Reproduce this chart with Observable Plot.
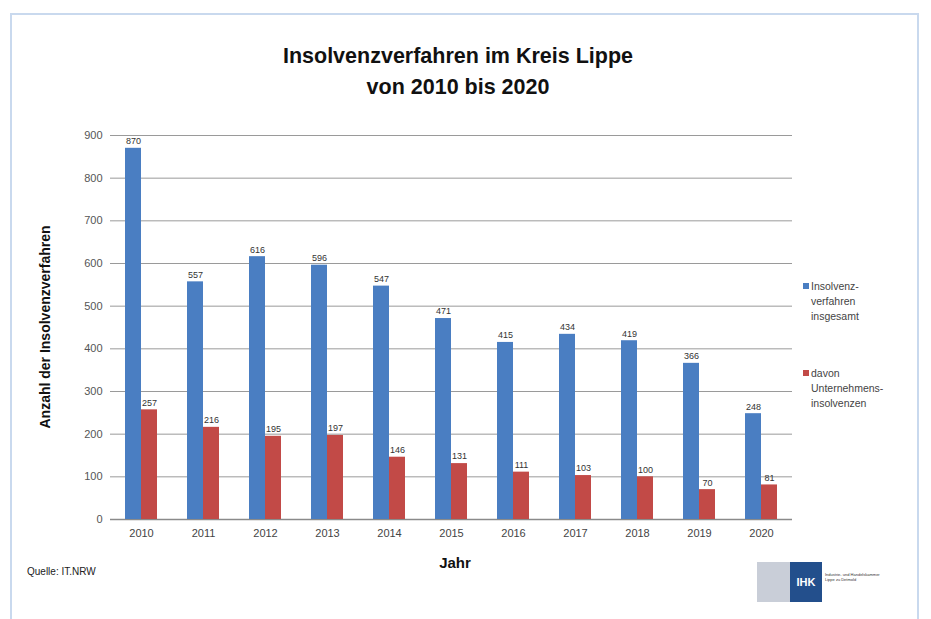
<!DOCTYPE html>
<html>
<head>
<meta charset="utf-8">
<script src="https://cdn.jsdelivr.net/npm/d3@7"></script>
<script src="https://cdn.jsdelivr.net/npm/@observablehq/plot@0.6"></script>
<style>
  html, body { margin: 0; padding: 0; background: #fff; }
  #page { position: relative; width: 931px; height: 619px; overflow: hidden; font-family: "Liberation Sans", Arial, sans-serif; }
  #frame { position: absolute; left: 10px; top: 13px; width: 905px; height: 700px; border: 2px solid #c9d9ee; }
  #chart { position: absolute; left: 0; top: 0; }
  #title { position: absolute; left: 0; width: 916px; top: 41px; text-align: center; font-weight: bold; font-size: 21.5px; line-height: 31px; color: #111; }
  .legend { position: absolute; left: 803px; font-size: 10.5px; line-height: 15px; color: #444; }
  .legend .sw { display: inline-block; width: 6px; height: 6px; margin-right: 2px; vertical-align: 1px; }
  .legend .txt { display: inline-block; vertical-align: top; }
  #ylab { position: absolute; left: 45px; top: 327px; transform: translate(-50%, -50%) rotate(-90deg); white-space: nowrap; font-weight: bold; font-size: 14px; color: #111; }
  #xlab { position: absolute; left: 455px; top: 562px; transform: translate(-50%, -50%); font-weight: bold; font-size: 15px; color: #111; }
  #quelle { position: absolute; left: 27px; top: 566px; font-size: 10px; color: #222; }
  #logo { position: absolute; left: 757px; top: 562px; height: 40px; display: flex; align-items: stretch; }
  #logo .emb { width: 33px; background: #c9ced8; }
  #logo .ihk { width: 32px; background: #234f8c; color: #fff; font-weight: bold; font-size: 11px; display: flex; align-items: center; justify-content: center; }
  #logo .name { font-size: 4px; line-height: 5px; color: #333; padding: 10px 0 0 3px; width: 60px; }
</style>
</head>
<body>
<div id="page">
  <div id="frame"></div>
  <div id="chart"></div>
  <div id="title">Insolvenzverfahren im Kreis Lippe<br>von 2010 bis 2020</div>
  <div id="ylab">Anzahl der Insolvenzverfahren</div>
  <div id="xlab">Jahr</div>
  <div id="quelle">Quelle: IT.NRW</div>
  <div class="legend" style="top:279px"><span class="sw" style="background:#4a7ec2"></span><span class="txt">Insolvenz-<br>verfahren<br>insgesamt</span></div>
  <div class="legend" style="top:366px"><span class="sw" style="background:#c24a47"></span><span class="txt">davon<br>Unternehmens-<br>insolvenzen</span></div>
  <div id="logo"><div class="emb"></div><div class="ihk">IHK</div><div class="name">Industrie- und Handelskammer<br>Lippe zu Detmold</div></div>
</div>
<script>
const years = ["2010","2011","2012","2013","2014","2015","2016","2017","2018","2019","2020"];
const insgesamt = [870, 557, 616, 596, 547, 471, 415, 434, 419, 366, 248];
const unternehmen = [257, 216, 195, 197, 146, 131, 111, 103, 100, 70, 81];
const seriesNames = ["Insolvenzverfahren insgesamt", "davon Unternehmensinsolvenzen"];
const seriesColors = ["#4a7ec2", "#c24a47"];
const yTicks = [0, 100, 200, 300, 400, 500, 600, 700, 800, 900];

const data = years.flatMap((year, i) => [
  {year, series: seriesNames[0], value: insgesamt[i]},
  {year, series: seriesNames[1], value: unternehmen[i]}
]);

const chart = Plot.plot({
  width: 931,
  height: 619,
  marginLeft: 107,
  marginRight: 136,
  marginTop: 135,
  marginBottom: 100,
  style: {fontFamily: '"Liberation Sans", Arial, sans-serif', background: "transparent"},
  fx: {domain: years, padding: 0, label: null, axis: null},
  x: {domain: seriesNames, paddingInner: 0, paddingOuter: 0.84, axis: null},
  y: {domain: [0, 900]},
  color: {domain: seriesNames, range: seriesColors},
  marks: [
    Plot.gridY(yTicks, {stroke: "#9a9a9a", strokeOpacity: 1, strokeWidth: 1}),
    Plot.ruleY([0], {stroke: "#8a8a8a", strokeWidth: 1.5}),
    Plot.axisY({ticks: yTicks, tickSize: 0, tickPadding: 8, label: null, fontSize: 11, fill: "#555"}),
    Plot.axisFx({anchor: "bottom", tickSize: 0, tickPadding: 10, label: null, fontSize: 11, fill: "#444"}),
    Plot.barY(data, {fx: "year", x: "series", y: "value", fill: "series"}),
    Plot.text(data, {fx: "year", x: "series", y: "value", text: d => String(d.value), dy: -7, fontSize: 9, fill: "#333"})
  ]
});
document.getElementById("chart").appendChild(chart);
</script>
</body>
</html>
